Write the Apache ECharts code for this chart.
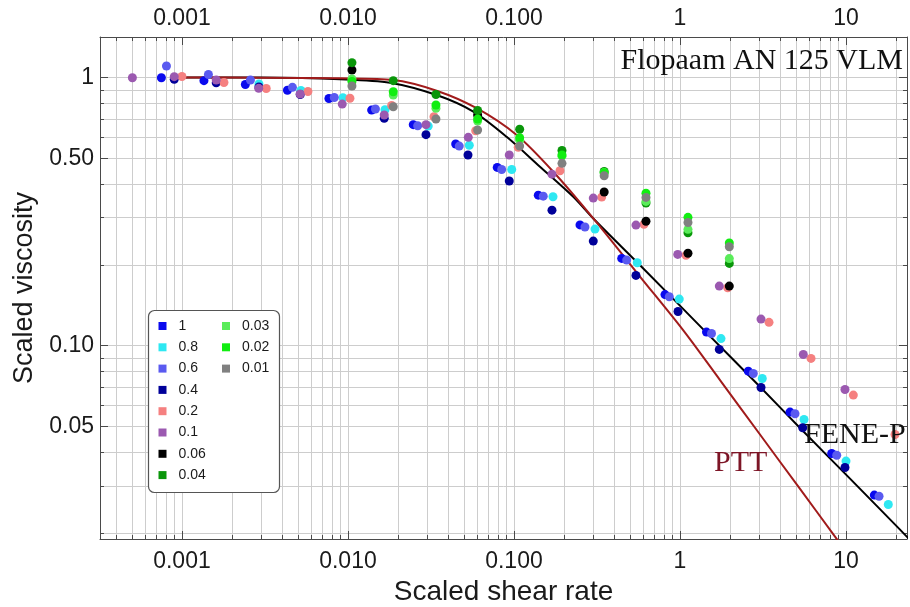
<!DOCTYPE html>
<html>
<head>
<meta charset="utf-8">
<script src="https://cdn.jsdelivr.net/npm/echarts@6/dist/echarts.min.js"></script>
<style>
html, body { margin: 0; padding: 0; background: #ffffff; }
#chart { width: 910px; height: 607px; }
</style>
</head>
<body>
<div id="chart"></div>
<script>
// Polymer concentrations shown in the legend and their marker colours
const concentrations = ['1', '0.8', '0.6', '0.4', '0.2', '0.1', '0.06', '0.04', '0.03', '0.02', '0.01'];
const concColors = ['#0a0aee', '#2ee8f2', '#5a5af0', '#000099', '#f58080', '#9b59b0',
                    '#000000', '#0a960a', '#5aec5a', '#11ee11', '#808080'];

// Measured points: [scaled shear rate, scaled viscosity]
const conc_1 = [[0.000752,0.998],[0.001357,0.973],[0.00241,0.942],[0.00432,0.896],[0.00768,0.835],[0.01389,0.756],[0.02474,0.667],[0.04455,0.565],[0.0793,0.462],[0.1401,0.364],[0.2498,0.282],[0.4455,0.2115],[0.812,0.155],[1.444,0.1123],[2.578,0.0803],[4.598,0.0565],[8.20,0.0396],[14.81,0.0277]];
const conc_0_8 = [[0.00291,0.946],[0.00521,0.894],[0.00933,0.841],[0.01671,0.758],[0.03045,0.659],[0.0538,0.559],[0.0969,0.454],[0.1718,0.359],[0.3076,0.272],[0.553,0.2037],[0.990,0.1491],[1.766,0.1062],[3.131,0.0754],[5.585,0.0530],[10.0,0.0371],[17.98,0.02556]];
const conc_0_6 = [[0.000807,1.104],[0.001444,1.026],[0.002586,0.979],[0.00463,0.919],[0.00827,0.842],[0.01464,0.763],[0.0263,0.661],[0.04682,0.555],[0.0843,0.454],[0.1501,0.361],[0.2677,0.277],[0.4774,0.2084],[0.862,0.1521],[1.548,0.1110],[2.764,0.0787],[4.930,0.0557],[8.79,0.0390],[15.81,0.02744]];
const conc_0_4 = [[0.000899,0.985],[0.001609,0.956],[0.00291,0.922],[0.00516,0.864],[0.01654,0.704],[0.02951,0.612],[0.05284,0.514],[0.0937,0.411],[0.1694,0.320],[0.3004,0.2454],[0.543,0.1828],[0.973,0.1341],[1.725,0.0968],[3.076,0.0698],[5.485,0.0494],[9.86,0.0351]];
const conc_0_2 = [[0.001,1.009],[0.001791,0.958],[0.00322,0.910],[0.00574,0.887],[0.01028,0.837],[0.01834,0.786],[0.03297,0.714],[0.0588,0.633],[0.1061,0.549],[0.1893,0.449],[0.3376,0.358],[0.607,0.2834],[1.087,0.2171],[1.938,0.1643],[3.437,0.1221],[6.155,0.0896],[11.07,0.0654],[19.73,0.0466]];
const conc_0_1 = [[0.000503,0.998],[0.000899,1.007],[0.001609,0.979],[0.00290,0.911],[0.00515,0.868],[0.00924,0.796],[0.01654,0.725],[0.02951,0.667],[0.05306,0.598],[0.0937,0.514],[0.1694,0.436],[0.3004,0.355],[0.543,0.2816],[0.969,0.2189],[1.725,0.1667],[3.076,0.1256],[5.531,0.0927],[9.86,0.0686]];
const conc_0_06 = [[0.01057,1.067],[0.0604,0.725],[0.3494,0.374],[0.624,0.291],[1.117,0.221],[1.982,0.1667]];
const conc_0_04 = [[0.01057,1.136],[0.01875,0.973],[0.03389,0.864],[0.0604,0.753],[0.1082,0.641],[0.1946,0.534],[0.3494,0.446],[0.624,0.340],[1.117,0.2636],[1.982,0.2026]];
const conc_0_03 = [[0.01057,0.987],[0.01875,0.860],[0.03389,0.768],[0.0604,0.688],[0.1082,0.584],[0.1946,0.509],[0.3494,0.442],[0.624,0.345],[1.117,0.2714],[1.982,0.2112]];
const conc_0_02 = [[0.01057,0.966],[0.01875,0.885],[0.03389,0.790],[0.0604,0.700],[0.1082,0.596],[0.1946,0.514],[0.3494,0.441],[0.624,0.370],[1.117,0.301],[1.982,0.2413]];
const conc_0_01 = [[0.01057,0.930],[0.01875,0.778],[0.03389,0.700],[0.0604,0.637],[0.1082,0.555],[0.1946,0.4785],[0.3494,0.430],[0.624,0.357],[1.117,0.288],[1.982,0.2337]];
const concData = [conc_1, conc_0_8, conc_0_6, conc_0_4, conc_0_2, conc_0_1,
                  conc_0_06, conc_0_04, conc_0_03, conc_0_02, conc_0_01];

// Model curves
const feneP = [[0.001,1.0],[0.00295,0.999],[0.00895,0.985],[0.0179,0.956],[0.0342,0.860],[0.0569,0.746],[0.0903,0.601],[0.1434,0.465],[0.2276,0.359],[0.3004,0.298],[0.601,0.194],[1.448,0.1116],[3.033,0.0702],[5.284,0.0493],[10.57,0.0319],[21.15,0.0206],[27.9,0.0172]];
const ptt = [[0.001,1.0],[0.00295,0.998],[0.00895,0.993],[0.01875,0.979],[0.0342,0.893],[0.0596,0.768],[0.1038,0.610],[0.1725,0.445],[0.3004,0.298],[0.574,0.181],[1.047,0.114],[1.742,0.0744],[3.033,0.0466],[5.284,0.0292],[8.585,0.0194],[10.57,0.01625]];

// Axis ticks and grid lines
const xTickValues = [0.001, 0.01, 0.1, 1, 10];
const xTickLabels = ['0.001', '0.010', '0.100', '1', '10'];
const yTickValues = [0.05, 0.1, 0.5, 1];
const yTickLabels = ['0.05', '0.10', '0.50', '1'];
const xGridValues = [0.0004,0.0005,0.0006,0.0007,0.0008,0.0009,
  0.001,0.002,0.003,0.004,0.005,0.006,0.007,0.008,0.009,
  0.01,0.02,0.03,0.04,0.05,0.06,0.07,0.08,0.09,
  0.1,0.2,0.3,0.4,0.5,0.6,0.7,0.8,0.9,
  1,2,3,4,5,6,7,8,9,10,20];
const yGridValues = [0.02,0.03,0.04,0.05,0.06,0.07,0.08,0.09,
  0.1,0.2,0.3,0.4,0.5,0.6,0.7,0.8,0.9,1];

const xMin = 0.000321, xMax = 23.3;
const yMin = 0.019, yMax = 1.416;

const sans = '"Liberation Sans", Arial, sans-serif';
const serif = '"Liberation Serif", "Times New Roman", serif';
const frameColor = '#4a4a4a';
const gridColor = '#cdcdcd';

function labelFor(values, labels) {
  return function (v) {
    let best = 0, bestD = Infinity;
    values.forEach(function (t, i) {
      const d = Math.abs(Math.log10(v) - Math.log10(t));
      if (d < bestD) { bestD = d; best = i; }
    });
    return labels[best];
  };
}

function logAxis(dim, position, opts) {
  const isX = dim === 'x';
  return Object.assign({
    type: 'log',
    logBase: 10,
    min: isX ? xMin : yMin,
    max: isX ? xMax : yMax,
    position: position,
    axisLine: { show: false, onZero: false },
    axisTick: { show: false },
    axisLabel: { show: false },
    splitLine: { show: false },
    minorTick: { show: false },
    minorSplitLine: { show: false }
  }, opts);
}

function majorAxis(dim, position, withLabels, margin) {
  const isX = dim === 'x';
  const vals = isX ? xTickValues : yTickValues;
  const labs = isX ? xTickLabels : yTickLabels;
  return logAxis(dim, position, {
    axisLine: { show: true, onZero: false, lineStyle: { color: frameColor, width: 1 } },
    axisTick: { show: true, inside: true, length: 8, customValues: vals,
                lineStyle: { color: frameColor, width: 1 } },
    axisLabel: withLabels ? {
      show: true, customValues: vals, formatter: labelFor(vals, labs),
      fontFamily: sans, fontSize: 23, color: '#1a1a1a', margin: margin
    } : { show: false }
  });
}

function minorAxis(dim, position, withGrid) {
  const isX = dim === 'x';
  const vals = isX ? xGridValues : yGridValues;
  return logAxis(dim, position, {
    axisTick: { show: true, inside: true, length: 4, customValues: vals,
                lineStyle: { color: frameColor, width: 1 } },
    splitLine: { show: withGrid, lineStyle: { color: gridColor, width: 1 } }
  });
}

const xAxes = [
  Object.assign(majorAxis('x', 'bottom', true, 11), {
    name: 'Scaled shear rate', nameLocation: 'middle', nameGap: 39,
    nameTextStyle: { fontFamily: sans, fontSize: 28, color: '#1a1a1a' }
  }),
  minorAxis('x', 'bottom', true),
  majorAxis('x', 'top', true, 7),
  minorAxis('x', 'top', false)
];
const yAxes = [
  Object.assign(majorAxis('y', 'left', true, 6), {
    name: 'Scaled viscosity', nameLocation: 'middle', nameGap: 50, nameRotate: 90,
    nameTextStyle: { fontFamily: sans, fontSize: 27, color: '#1a1a1a' }
  }),
  minorAxis('y', 'left', true),
  majorAxis('y', 'right', false, 6),
  minorAxis('y', 'right', false)
];

const series = [
  {
    name: 'FENE-P', type: 'line', data: feneP, smooth: 0.3,
    showSymbol: false, symbol: 'none', clip: true, z: 2,
    lineStyle: { color: '#000000', width: 2 }, silent: true
  },
  {
    name: 'PTT', type: 'line', data: ptt, smooth: 0.3,
    showSymbol: false, symbol: 'none', clip: true, z: 2,
    lineStyle: { color: '#a11b1b', width: 2 }, silent: true
  }
];
concentrations.forEach(function (name, i) {
  series.push({
    name: name, type: 'scatter', data: concData[i], symbol: 'circle', symbolSize: 9,
    itemStyle: { color: concColors[i], borderWidth: 0, opacity: 1 }, z: 3
  });
});

// Legend: two columns sharing one rounded frame
function legendColumn(names, left) {
  return {
    data: names,
    orient: 'vertical',
    left: left, top: 319,
    padding: 0,
    itemWidth: 8, itemHeight: 8, itemGap: 7.3,
    icon: 'rect',
    selectedMode: false,
    itemStyle: { borderWidth: 0 },
    textStyle: { fontFamily: sans, fontSize: 14, color: '#1a1a1a', padding: [0, 0, 0, 7] },
    z: 10
  };
}

const chart = echarts.init(document.getElementById('chart'), null, { renderer: 'canvas' });
chart.setOption({
  animation: false,
  backgroundColor: '#ffffff',
  color: concColors,
  grid: { left: 100, top: 37, right: 3, bottom: 68, containLabel: false, outerBoundsMode: 'none' },
  xAxis: xAxes,
  yAxis: yAxes,
  legend: [
    legendColumn(concentrations.slice(0, 8), 158.5),
    legendColumn(concentrations.slice(8), 222)
  ],
  graphic: [
    { type: 'rect', z: 8,
      shape: { x: 148.5, y: 310.5, width: 131, height: 182, r: 6 },
      style: { fill: '#ffffff', stroke: '#555555', lineWidth: 1.2 } },
    { type: 'text', x: 903, y: 61, z: 100,
      style: { text: 'Flopaam AN 125 VLM', font: '30px ' + serif, fill: '#111111', align: 'right', verticalAlign: 'middle' } },
    { type: 'text', x: 804, y: 435, z: 100,
      style: { text: 'FENE-P', font: '30px ' + serif, fill: '#111111', align: 'left', verticalAlign: 'middle' } },
    { type: 'text', x: 714, y: 463, z: 100,
      style: { text: 'PTT', font: '30px ' + serif, fill: '#7d1526', align: 'left', verticalAlign: 'middle' } }
  ],
  series: series
});
</script>
</body>
</html>
